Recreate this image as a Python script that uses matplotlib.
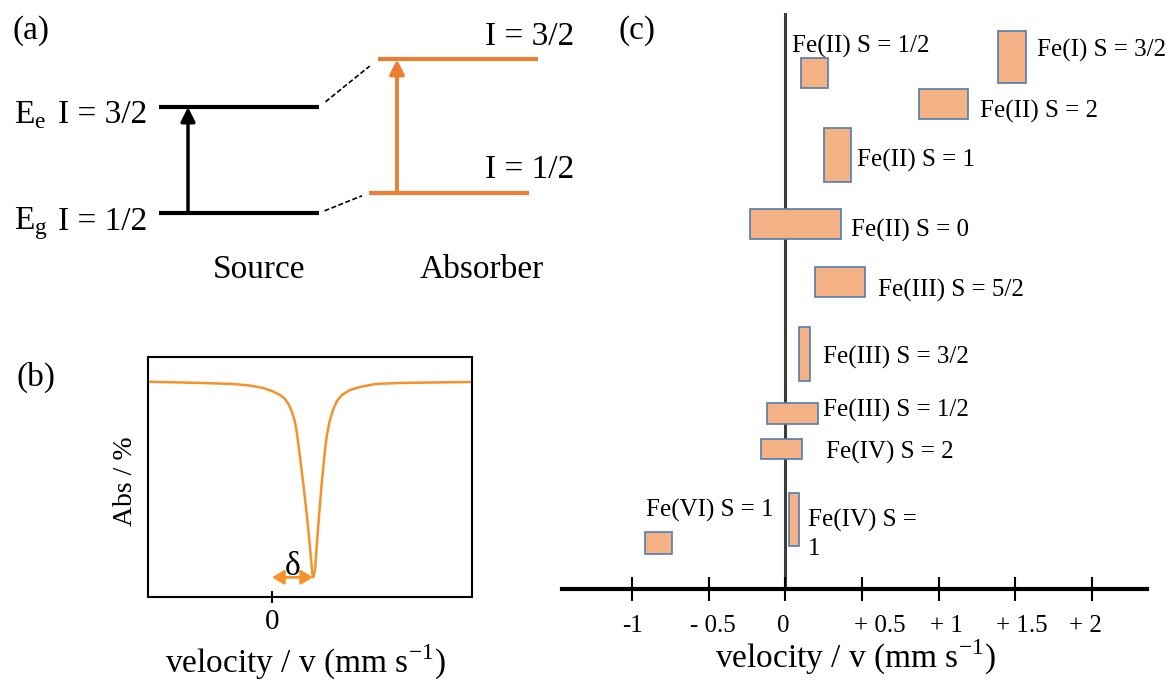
import numpy as np
import matplotlib
matplotlib.use('Agg')
import matplotlib.pyplot as plt

plt.rcParams['font.family'] = 'Liberation Serif'
plt.rcParams['mathtext.fontset'] = 'custom'
plt.rcParams['mathtext.rm'] = 'Liberation Serif'

# (a) nuclear levels: relative energies of ground / excited states
spins = ['1/2', '3/2']
state_sub = ['g', 'e']
source_E = [0.0, 1.0]
absorber_E = [0.19, 1.45]

# (b) absorption line
velocity = [-0.903, -0.526, -0.285, -0.161, -0.066, 0.0, 0.058, 0.095, 0.124,
            0.146, 0.168, 0.182, 0.204, 0.228, 0.253, 0.277, 0.294, 0.301,
            0.314, 0.326, 0.345, 0.363, 0.387, 0.401, 0.423, 0.445, 0.474,
            0.511, 0.569, 0.642, 0.752, 0.934, 1.458]
absorption = [89.7, 89.2, 88.75, 88.1, 87.1, 85.8, 84.2, 82.5, 80.0,
              77.1, 72.9, 68.3, 58.5, 47.4, 34.9, 21.0, 9.9, 8.2,
              11.3, 21.0, 34.9, 47.4, 61.3, 67.5, 73.75, 77.9, 81.7,
              84.2, 86.25, 87.5, 88.75, 89.2, 89.6]
delta = 0.30

# (c) isomer shift ranges for iron oxidation / spin states
states = ['Fe(II) S = 1/2', 'Fe(I) S = 3/2', 'Fe(II) S = 2', 'Fe(II) S = 1',
          'Fe(II) S = 0', 'Fe(III) S = 5/2', 'Fe(III) S = 3/2', 'Fe(III) S = 1/2',
          'Fe(IV) S = 2', 'Fe(IV) S =\n1', 'Fe(VI) S = 1']
shift_lo = [0.10, 1.39, 0.87, 0.25, -0.23, 0.19, 0.09, -0.12, -0.16, 0.02, -0.92]
shift_hi = [0.28, 1.57, 1.19, 0.43, 0.36, 0.52, 0.16, 0.21, 0.11, 0.09, -0.74]
row_lo = [8.70, 8.78, 8.16, 7.07, 6.08, 5.07, 3.61, 2.86, 2.26, 0.75, 0.61]
row_hi = [9.22, 9.69, 8.68, 8.00, 6.60, 5.59, 4.55, 3.23, 2.60, 1.67, 0.99]
tick_vals = [-1, -0.5, 0, 0.5, 1, 1.5, 2]
tick_text = ['-1', '- 0.5', '0', '+ 0.5', '+ 1', '+ 1.5', '+ 2']

W, H = 1169, 680
fig = plt.figure(figsize=(W / 100, H / 100), dpi=100)
ORANGE = '#ED7D31'


def add_ax(x0, y0, x1, y1):
    # axes box given in pixels, origin top-left
    ax = fig.add_axes([x0 / W, 1 - y1 / H, (x1 - x0) / W, (y1 - y0) / H])
    ax.patch.set_visible(False)
    return ax


def fig_text(x, y, s, **kw):
    fig.text(x / W, 1 - y / H, s, **kw)


# ---- (a) energy level scheme
ax = add_ax(0, 0, 560, 300)
ax.set_xlim(0, 560)
ax.set_ylim(-0.82, 2.01)
ax.axis('off')

source_x = (159, 319)
absorber_x = [(369, 529), (378, 538)]
for E in source_E:
    ax.plot(source_x, [E, E], color='black', lw=3, solid_capstyle='butt')
for E, (x0, x1) in zip(absorber_E, absorber_x):
    ax.plot([x0, x1], [E, E], color=ORANGE, lw=3, solid_capstyle='butt')

# dashed connectors between matching levels
for Es, Ea, (xa, _) in zip(source_E, absorber_E, absorber_x):
    t = np.array([0.11, 0.86])
    ax.plot(source_x[1] + t * (xa - source_x[1]), Es + t * (Ea - Es),
            color='black', lw=1.2, ls=(0, (3, 1.5)))

arrow = '-|>,head_length=0.5,head_width=0.25'
ax.annotate('', xy=(188, source_E[1]), xytext=(188, source_E[0]),
            arrowprops=dict(arrowstyle=arrow, mutation_scale=17, lw=2.5,
                            color='black', shrinkA=0, shrinkB=0))
ax.annotate('', xy=(397, absorber_E[1]), xytext=(397, absorber_E[0]),
            arrowprops=dict(arrowstyle=arrow, mutation_scale=17, lw=2.8,
                            color=ORANGE, shrinkA=0, shrinkB=0))

for E, sub, spin in zip(source_E, state_sub, spins):
    ax.text(14, E - 0.155, r'E$_{\mathregular{%s}}$' % sub, fontsize=24, va='baseline')
    ax.text(58, E - 0.155, 'I = ' + spin, fontsize=24, va='baseline')
for E, spin in zip(absorber_E, spins):
    ax.text(485, E + 0.14, 'I = ' + spin, fontsize=24, va='baseline')
ax.text(259, -0.61, 'Source', fontsize=24, ha='center', va='baseline')
ax.text(482, -0.61, 'Absorber', fontsize=24, ha='center', va='baseline')
fig_text(12, 31, '(a)', fontsize=24, va='center')

# ---- (b) single absorption line
axb = add_ax(148, 357, 472, 597)
axb.plot(velocity, absorption, color='#F5922A', lw=1.8)
axb.set_xlim(-0.905, 1.46)
axb.set_ylim(0, 100)
axb.set_yticks([])
axb.set_xticks([0])
axb.set_xticklabels(['0'], fontsize=21)
axb.tick_params(axis='x', direction='inout', length=9, width=1.5, pad=4)
for sp in axb.spines.values():
    sp.set_linewidth(1.5)
ymin = min(absorption)
axb.annotate('', xy=(0, ymin), xytext=(delta, ymin),
             arrowprops=dict(arrowstyle='<|-|>,head_length=0.5,head_width=0.3',
                             mutation_scale=14, lw=2, color='#F5922A',
                             shrinkA=0, shrinkB=0))
axb.text(delta / 2, ymin + 1, r'δ', fontsize=24, ha='center', va='baseline')
fig_text(132, 481, 'Abs / %', fontsize=20, rotation=90, rotation_mode='anchor',
         ha='center', va='baseline')
fig_text(305, 673, r'velocity / v (mm s$^{\mathregular{-1}}$)', fontsize=24,
         ha='center', va='baseline')
fig_text(17, 377, '(b)', fontsize=24, va='center')

# ---- (c) isomer shift chart
axc = add_ax(562, 13, 1147, 589)
axc.set_xlim(-1.460, 2.362)
axc.set_ylim(0, 10)
for side in ['left', 'right', 'top']:
    axc.spines[side].set_visible(False)
axc.spines['bottom'].set_linewidth(3)
axc.set_yticks([])
axc.set_xticks(tick_vals)
axc.tick_params(axis='x', direction='inout', length=17, width=1.5, labelbottom=False)
axc.axvline(0, color='#3c3c3c', lw=2.2, zorder=0.5)

lo = np.array(shift_lo)
hi = np.array(shift_hi)
bot = np.array(row_lo)
top = np.array(row_hi)
axc.bar(lo, top - bot, width=hi - lo, bottom=bot, align='edge',
        color='#F4B183', edgecolor='#4F7DB0', linewidth=1.2, zorder=2)

# label anchors: baseline of the last text line
label_pos = [(0.042, 9.32), (1.643, 9.24), (1.271, 8.18), (0.467, 7.33),
             (0.428, 6.11), (0.604, 5.07), (0.245, 3.92), (0.245, 2.99),
             (0.265, 2.27), (0.147, 0.59), (-0.911, 1.25)]
for name, (x, y) in zip(states, label_pos):
    axc.text(x, y, name, fontsize=18, va='baseline', ha='left', linespacing=1.35)

label_shift = [0, 4, -2, 18, 8, 7, -6]
for v, s, dx in zip(tick_vals, tick_text, label_shift):
    axc.annotate(s, xy=(v, 0), xytext=(dx, -43), textcoords='offset pixels',
                 fontsize=18, ha='center', va='baseline', annotation_clip=False)
fig_text(855, 668, r'velocity / v (mm s$^{\mathregular{-1}}$)', fontsize=24,
         ha='center', va='baseline')
fig_text(618, 31, '(c)', fontsize=24, va='center')

fig.savefig('out.png', dpi=100)
